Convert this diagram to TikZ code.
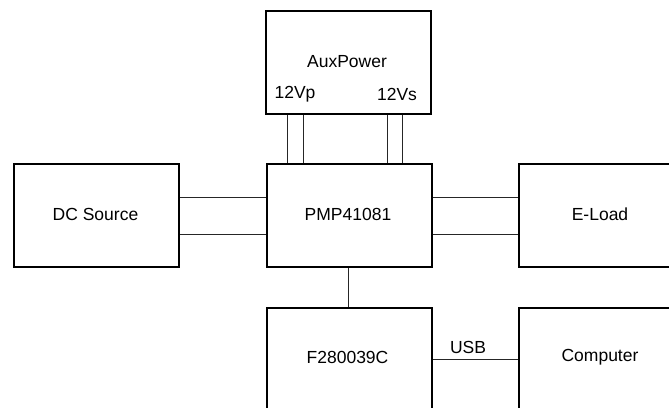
\documentclass[tikz,border=0pt]{standalone}
\usepackage{fontspec}
\setmainfont{Liberation Sans}
\begin{document}
\begin{tikzpicture}[x=1pt,y=-1pt,
  blk/.style={draw=black,line width=2pt,minimum width=165pt,minimum height=103pt,inner sep=0pt,anchor=north west},
  lbl/.style={inner sep=0pt,font=\fontsize{17.5}{20}\selectfont},
  wire/.style={line width=1pt,draw=black!85}]
\clip (0,0) rectangle (669,407);
\fill[white] (0,0) rectangle (669,407);
\node[blk] (aux) at (265,10) {};
\node[blk] (dc) at (13,163) {};
\node[blk] (pmp) at (265.5,163) {};
\node[blk] (eload) at (518,163) {};
\node[blk] (f28) at (265.5,307) {};
\node[blk] (comp) at (518,307) {};
\node[lbl] (tAux) at (347,62) {AuxPower};
\node[lbl] (tVp) at (295,94) {12Vp};
\node[lbl] (tVs) at (397,94) {12Vs};
\node[lbl] (tDc) at (95.5,214) {DC Source};
\node[lbl] (tPmp) at (348,214) {PMP41081};
\node[lbl] (tEl) at (600,214) {E-Load};
\node[lbl] (tF) at (347.5,357) {F280039C};
\node[lbl] (tC) at (600,357) {Computer};
\node[lbl] (tUsb) at (468,347) {USB};
% aux to pmp
\foreach \xx in {287,303.5,387,402.5}
  \draw[wire] (aux.south -| \xx,0) -- (pmp.north -| \xx,0);
% dc to pmp
\foreach \yy in {197,234}
  \draw[wire] (dc.east |- 0,\yy) -- (pmp.west |- 0,\yy);
% pmp to eload
\foreach \yy in {197,234}
  \draw[wire] (pmp.east |- 0,\yy) -- (eload.west |- 0,\yy);
% pmp to f28
\draw[wire] (pmp.south -| 348,0) -- (f28.north -| 348,0);
% f28 to comp
\draw[wire] (f28.east |- 0,359) -- (comp.west |- 0,359);
\end{tikzpicture}
\end{document}
